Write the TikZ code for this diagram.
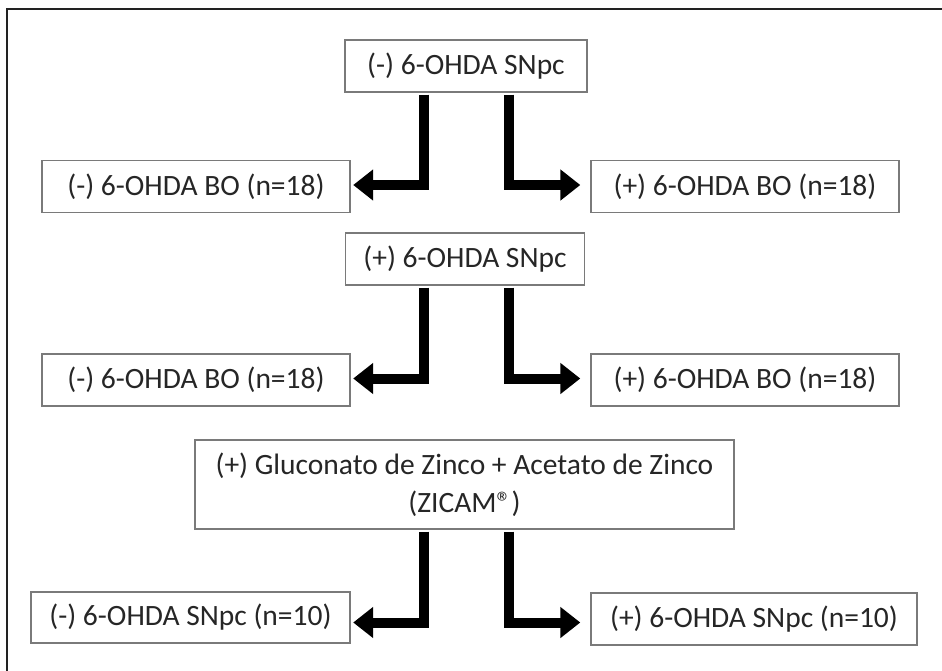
\documentclass[tikz,border=0pt]{standalone}
\usepackage{fontspec}
\setmainfont{Carlito}
\usetikzlibrary{arrows.meta}
\definecolor{txt}{HTML}{262626}
\definecolor{boxc}{HTML}{7A7A7A}
\definecolor{framec}{HTML}{222222}
\tikzset{
  box/.style={draw=boxc, line width=1.4pt, fill=white, rectangle, inner sep=0pt, align=center,
    text=txt, font=\fontsize{29.5}{38}\selectfont},
  arr/.style={line width=10pt, line join=miter, line cap=butt,
    -{Triangle[length=20pt,width=30pt]}, black}
}
\begin{document}
\begin{tikzpicture}[x=1pt,y=-1pt]
\useasboundingbox (0,0) rectangle (942,670);
\fill[white] (0,0) rectangle (942,670);
\draw[framec, line width=2.2pt] (7,671) -- (7,9) -- (943,9);

\node[box, minimum width=242pt, minimum height=52pt] (b1) at (466,66) {(-) 6-OHDA SNpc};
\node[box, minimum width=308pt, minimum height=52pt] (l1) at (196,186.5) {(-) 6-OHDA BO (n=18)};
\node[box, minimum width=308pt, minimum height=52pt] (r1) at (745,186.5) {(+) 6-OHDA BO (n=18)};

\node[box, minimum width=239pt, minimum height=52pt] (b2) at (465,259) {(+) 6-OHDA SNpc};
\node[box, minimum width=308pt, minimum height=52pt] (l2) at (196,380) {(-) 6-OHDA BO (n=18)};
\node[box, minimum width=308pt, minimum height=52pt] (r2) at (745,380) {(+) 6-OHDA BO (n=18)};

\node[box, minimum width=539pt, minimum height=89pt] (b3) at (464.5,484.5) {(+) Gluconato de Zinco + Acetato de Zinco\\(ZICAM®)};
\node[box, minimum width=319pt, minimum height=51pt] (l3) at (190.5,617.5) {(-) 6-OHDA SNpc (n=10)};
\node[box, minimum width=326pt, minimum height=52pt] (r3) at (754,619) {(+) 6-OHDA SNpc (n=10)};

\draw[arr, shorten >=2.5pt] ([xshift=-42pt,yshift=-2pt]b1.south) |- ([yshift=1.5pt]l1.east);
\draw[arr, shorten >=10pt] ([xshift=43pt,yshift=-2pt]b1.south) |- ([yshift=1.5pt]r1.west);

\draw[arr, shorten >=2.5pt] ([xshift=-41pt,yshift=-2pt]b2.south) |- ([yshift=1.5pt]l2.east);
\draw[arr, shorten >=10pt] ([xshift=44pt,yshift=-2pt]b2.south) |- ([yshift=1.5pt]r2.west);

\draw[arr, shorten >=2.5pt] ([xshift=-40.5pt,yshift=-2pt]b3.south) |- ([yshift=-5pt]l3.east);
\draw[arr, shorten >=10pt] ([xshift=44.5pt,yshift=-2pt]b3.south) |- ([yshift=-3.5pt]r3.west);
\end{tikzpicture}
\end{document}
